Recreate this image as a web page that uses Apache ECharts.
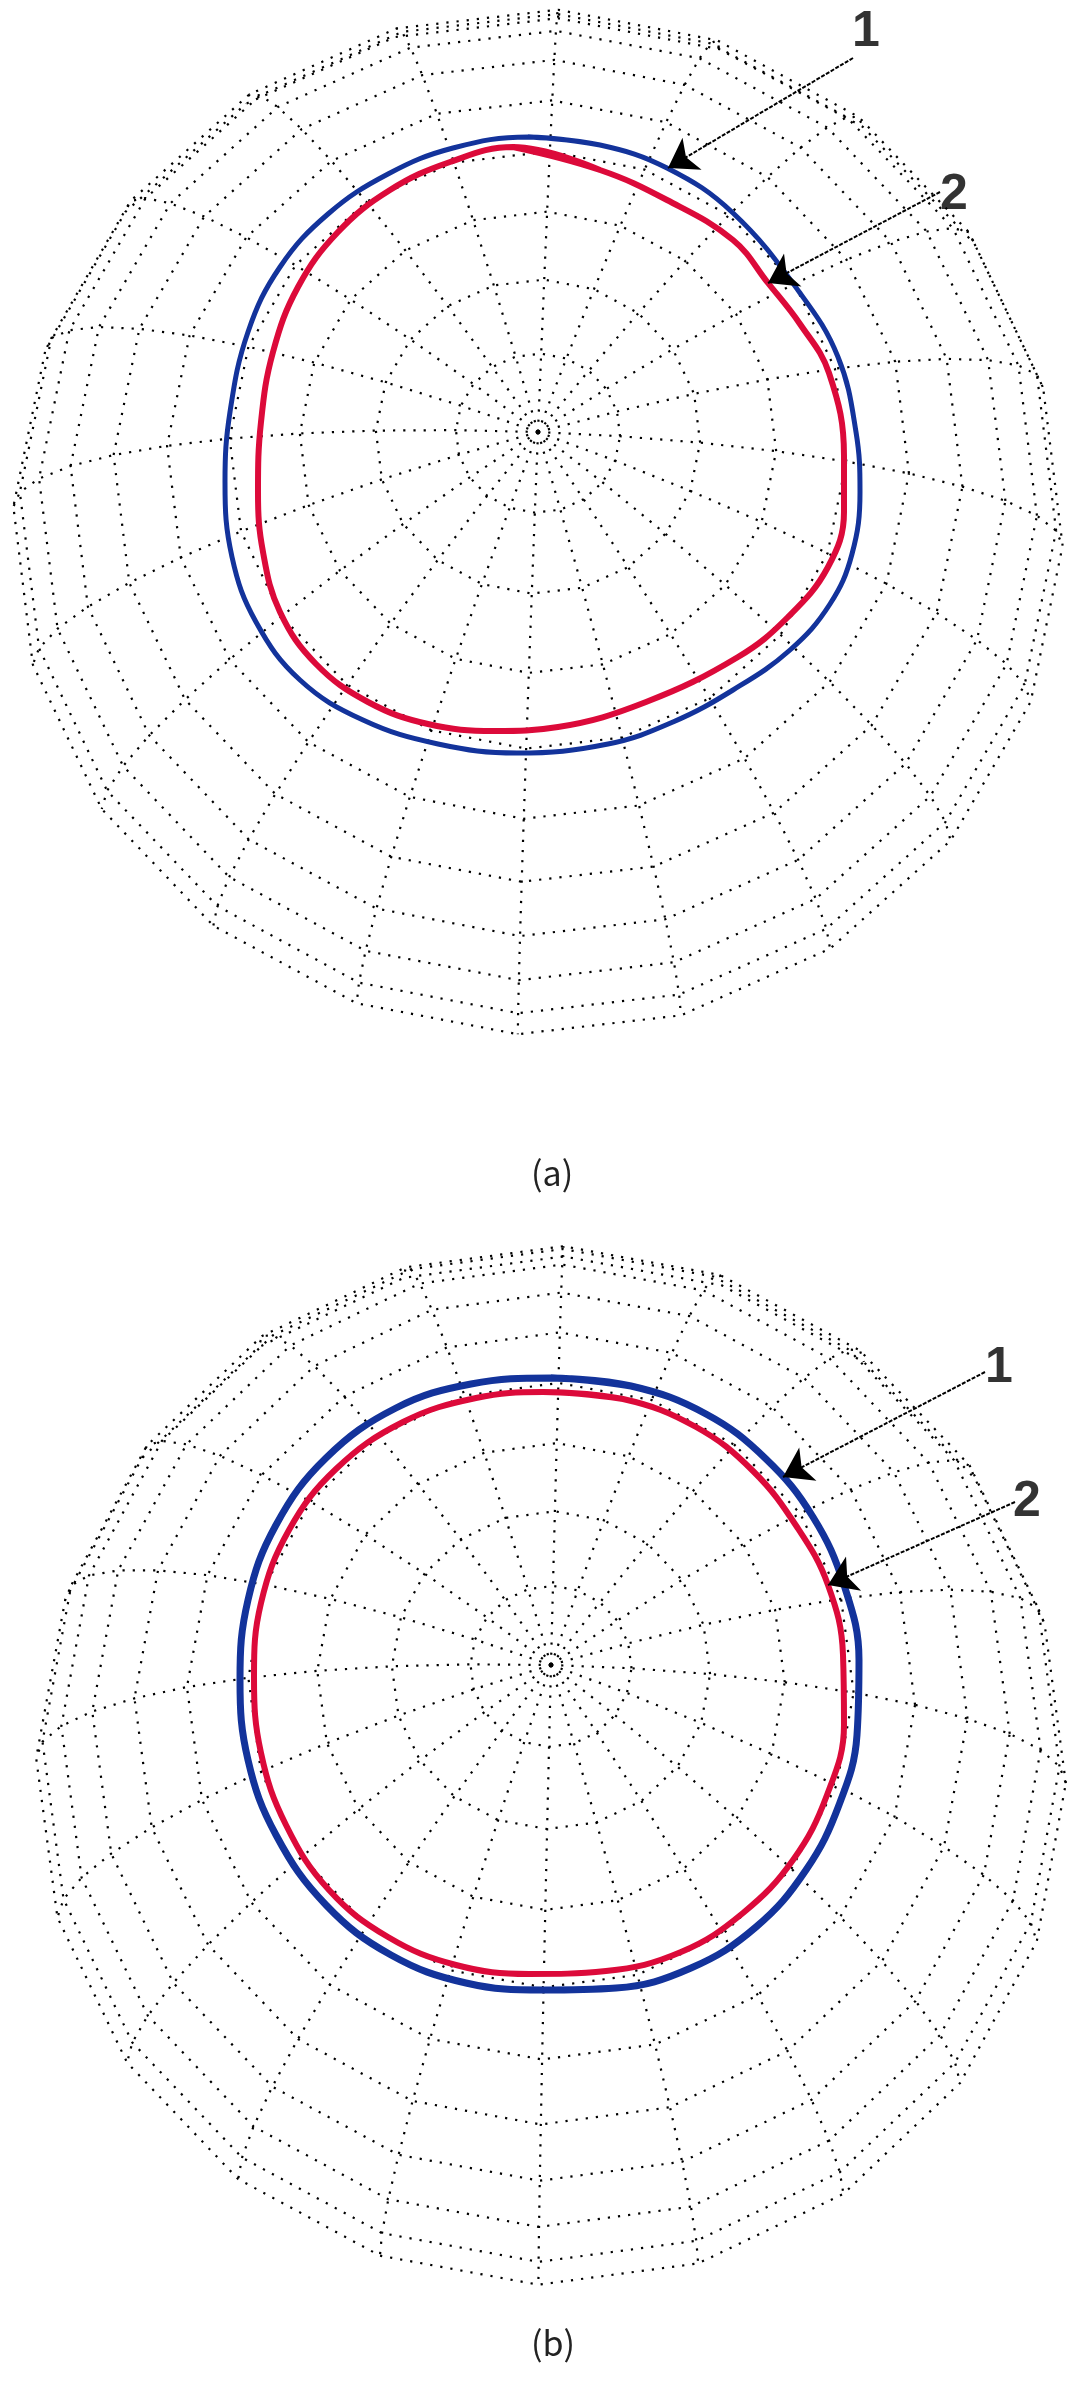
<!DOCTYPE html>
<html>
<head>
<meta charset="UTF-8">
<title>sphere mesh</title>
<script src="https://cdn.jsdelivr.net/npm/echarts@6.0.0/dist/echarts.min.js"></script>
<style>
html, body { margin: 0; padding: 0; background: #fff; }
#main { width: 1077px; height: 2385px; }
</style>
</head>
<body>
<div id="main"></div>
<script>
// mesh grid of the dome (degrees)
var colat = [0, 9, 18, 27, 36, 45, 54, 63, 72, 81, 90];
var lon = [0, 18, 36, 54, 72, 90, 108, 126, 144, 162, 180, 198, 216, 234, 252, 270, 288, 306, 324, 342];

// contours, offsets from the pole in px (y up)
var blueA = [[-10, 295], [62, 287], [129, 264], [195, 219], [262, 139], [300, 75], [318, 0], [322, -60], [314, -122], [292, -172], [252, -218], [195, -258], [135, -290], [70, -312], [-21, -321], [-100, -312], [-175, -288], [-238, -248], [-282, -190], [-306, -125], [-313, -50], [-308, 20], [-290, 100], [-258, 165], [-210, 218], [-150, 258], [-85, 284]];
var redA = [[-25, 285], [62, 262], [129, 232], [195, 192], [230, 149], [262, 108], [291, 59], [306, -24], [306, -80], [290, -135], [250, -185], [200, -225], [108, -270], [20, -295], [-44, -299], [-110, -292], [-170, -270], [-222, -232], [-258, -180], [-275, -120], [-280, -60], [-277, 10], [-265, 80], [-240, 145], [-200, 200], [-148, 242], [-88, 270]];
var blueB = [[0, 287], [80, 279], [155, 251], [215, 206], [262, 148], [293, 80], [308, 5], [306, -70], [288, -140], [255, -205], [205, -262], [140, -303], [65, -323], [-8, -325], [-85, -318], [-160, -290], [-225, -240], [-275, -170], [-303, -95], [-311, -15], [-303, 65], [-275, 140], [-225, 207], [-155, 257], [-80, 281]];
var redB = [[-8, 273], [72, 266], [145, 238], [202, 194], [246, 138], [277, 80], [292, 10], [293, -60], [276, -130], [242, -195], [192, -248], [130, -287], [55, -306], [-22, -309], [-95, -300], [-163, -272], [-222, -225], [-265, -160], [-290, -88], [-297, -12], [-290, 62], [-262, 135], [-215, 196], [-148, 243], [-75, 267]];

// arrows: [tail, tip], labels: [text, position]
var arrowsA = [[[315, 374], [130, 264]], [[402, 240], [230, 149]]];
var labelsA = [['1', [328, 400]], ['2', [416, 237]]];
var arrowsB = [[[434, 293], [232, 188]], [[464, 163], [277, 80]]];
var labelsB = [['1', [448, 297]], ['2', [476, 163]]];

var captions = ['(a)', '(b)'];

var views = [
    { rx: 525, ry: 517, elev: 79.5, delta: -2.2 },
    { rx: 515, ry: 525, elev: 78.4, delta: -1.4 }
];

function proj(th, ph, v) {
    var t = th * Math.PI / 180, p = (ph + v.delta) * Math.PI / 180, e = v.elev * Math.PI / 180;
    var x = Math.sin(t) * Math.cos(p), y = Math.sin(t) * Math.sin(p), z = Math.cos(t);
    return [v.rx * x, v.ry * (y * Math.sin(e) + (z - 1) * Math.cos(e))];
}

var series = [];

function addPanel(idx, blue, red, arrows, labels, blueW, redW) {
    var v = views[idx];
    var dotted = { color: '#000', width: 2.2, type: [2.2, 8] };
    // rings
    colat.forEach(function (th) {
        if (th === 0) return;
        var d = lon.map(function (ph) { return proj(th, ph, v); });
        d.push(d[0]);
        series.push({ type: 'line', xAxisIndex: idx, yAxisIndex: idx, data: d, symbol: 'none', silent: true, lineStyle: dotted, z: 1 });
    });
    // meridians
    lon.forEach(function (ph) {
        var d = colat.map(function (th) { return proj(th, ph, v); });
        series.push({ type: 'line', xAxisIndex: idx, yAxisIndex: idx, data: d, symbol: 'none', silent: true, lineStyle: dotted, z: 1 });
    });
    // contours
    [[blue, '#13339b', blueW], [red, '#dc0a3a', redW]].forEach(function (c) {
        series.push({
            type: 'line', xAxisIndex: idx, yAxisIndex: idx, smooth: 0.4, symbol: 'none', silent: true, z: 3,
            data: c[0].concat([c[0][0], c[0][1]]),
            lineStyle: { color: c[1], width: c[2] }
        });
    });
    // arrows
    series.push({
        type: 'lines', coordinateSystem: 'cartesian2d', xAxisIndex: idx, yAxisIndex: idx, silent: true, z: 5,
        symbol: ['none', 'arrow'], symbolSize: [18, 28],
        lineStyle: { color: '#000', width: 2, type: [4, 1.5], opacity: 1 },
        data: arrows.map(function (a) { return { coords: a }; })
    });
    series.push({
        type: 'scatter', xAxisIndex: idx, yAxisIndex: idx, symbolSize: 0, silent: true, z: 6,
        data: labels.map(function (l) { return { name: l[0], value: l[1] }; }),
        label: { show: true, position: 'inside', formatter: '{b}', fontSize: 50, fontWeight: 'bold', fontFamily: 'Liberation Sans', color: '#000' }
    });
}

addPanel(0, blueA, redA, arrowsA, labelsA, 5, 6);
addPanel(1, blueB, redB, arrowsB, labelsB, 7, 6);

var chart = echarts.init(document.getElementById('main'));
chart.setOption({
    animation: false,
    backgroundColor: '#fff',
    title: [
        { text: captions[0], left: 531, top: 1156, padding: 0, textStyle: { fontSize: 34, fontWeight: 'normal', fontFamily: 'Noto Sans CJK SC', color: '#222' } },
        { text: captions[1], left: 531, top: 2326, padding: 0, textStyle: { fontSize: 34, fontWeight: 'normal', fontFamily: 'Noto Sans CJK SC', color: '#222' } }
    ],
    grid: [
        { left: 0, top: 0, width: 1077, height: 1150 },
        { left: 0, top: 1200, width: 1077, height: 1185 }
    ],
    xAxis: [
        { type: 'value', gridIndex: 0, min: -538, max: 539, show: false, splitLine: { show: false } },
        { type: 'value', gridIndex: 1, min: -551, max: 526, show: false, splitLine: { show: false } }
    ],
    yAxis: [
        { type: 'value', gridIndex: 0, min: -718, max: 432, show: false, splitLine: { show: false } },
        { type: 'value', gridIndex: 1, min: -720, max: 465, show: false, splitLine: { show: false } }
    ],
    series: series
});
</script>
</body>
</html>
